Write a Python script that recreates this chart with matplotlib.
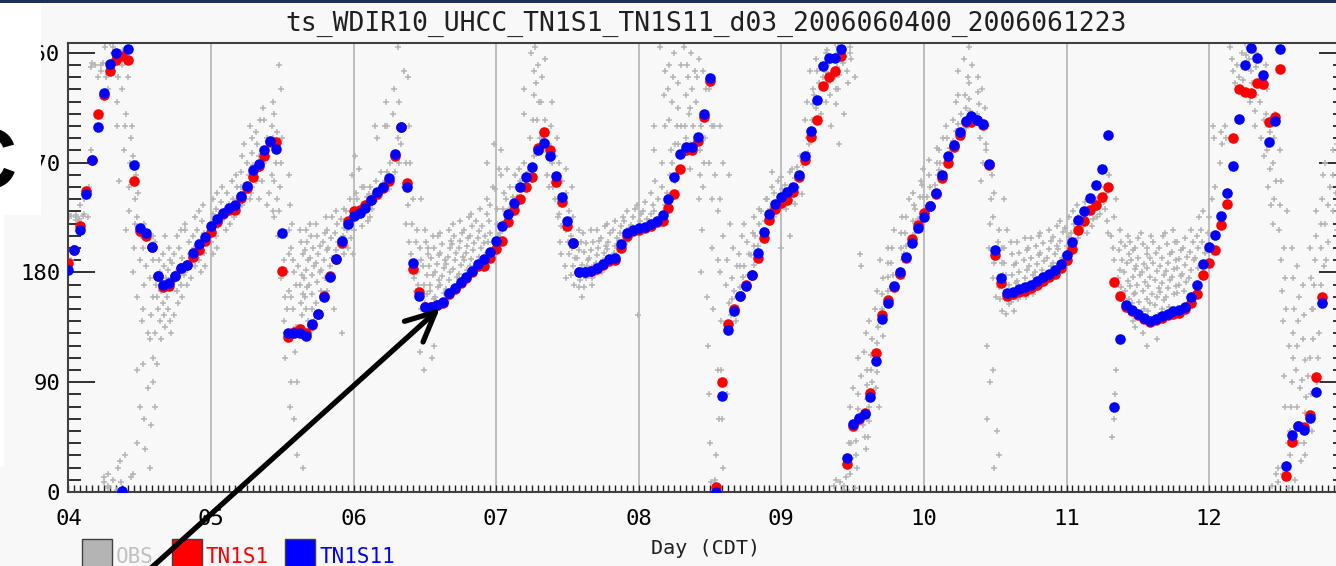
#!/usr/bin/env python3
import numpy as np
import matplotlib
matplotlib.use("Agg")
from matplotlib import pyplot as plt
from matplotlib.patches import Rectangle, FancyArrowPatch, ArrowStyle
from matplotlib.ticker import MultipleLocator
from matplotlib.transforms import IdentityTransform

nan = np.nan

title = "ts_WDIR10_UHCC_TN1S1_TN1S11_d03_2006060400_2006061223"
day_labels = ["04", "05", "06", "07", "08", "09", "10", "11", "12"]
ytick_vals = [0, 90, 180, 270, 360]
series_names = ["OBS", "TN1S1", "TN1S11"]

# hourly model wind direction (deg), 2006-06-04 00 .. 2006-06-12 23
tn1s1 = [
    188, 198, 218, 247, 272, 310, 325, 345, 354, 357, 354, 255, 214, 210, 201, 177, 168, 169, 177, 184, 186, 193, 198, 206,
    213, 221, 228, 231, 231, 241, 249, 258, 267, 275, 287, 287, 181, 127, 131, 134, 130, 137, 146, 161, 177, 191, 204, 222,
    230, 231, 235, 239, 244, 249, 255, 275, 299, 253, 183, 164, 152, 152, 153, 155, 162, 166, 171, 175, 180, 185, 185, 192,
    199, 206, 221, 231, 240, 250, 258, 282, 295, 280, 254, 238, 218, 204, 180, 180, 181, 183, 186, 189, 190, 200, 210, 214,
    215, 216, 218, 221, 222, 233, 244, 265, 280, 280, 288, 307, 337, 4, 90, 138, 150, 161, 170, 178, 192, 208, 223, 232,
    237, 239, 246, 258, 272, 291, 305, 333, 340, 345, 357, 23, 54, 60, 65, 81, 114, 145, 157, 168, 179, 192, 207, 219,
    229, 234, 244, 257, 270, 283, 293, 303, 303, 305, 301, 268, 194, 171, 161, 162, 164, 165, 167, 170, 173, 176, 179, 184,
    190, 199, 215, 222, 231, 235, 242, 250, 172, 161, 152, 148, 145, 142, 139, 141, 143, 145, 146, 147, 150, 155, 162, 178,
    188, 198, 219, 236, 290, 330, 328, 327, 335, 334, 303, 307, 347, 13, 41, 54, 53, 63, 94, 160, nan, nan, nan, nan,
]

tn1s11 = [
    182, 198, 215, 244, 272, 299, 327, 351, 360, 1, 363, 268, 216, 212, 201, 177, 170, 171, 177, 184, 186, 196, 203, 209,
    218, 224, 229, 233, 235, 243, 251, 264, 269, 280, 288, 281, 212, 130, 130, 130, 128, 138, 146, 160, 176, 191, 206, 220,
    226, 229, 233, 239, 246, 250, 257, 277, 299, 250, 188, 161, 152, 152, 153, 156, 163, 167, 172, 176, 181, 187, 191, 197,
    206, 218, 228, 237, 250, 258, 266, 280, 286, 275, 259, 242, 222, 204, 180, 180, 181, 184, 187, 191, 192, 203, 212, 215,
    216, 217, 220, 222, 227, 240, 258, 277, 283, 283, 291, 310, 339, 0, 79, 133, 148, 161, 169, 178, 196, 213, 228, 236,
    242, 246, 250, 260, 275, 296, 321, 349, 356, 356, 363, 28, 56, 61, 64, 78, 107, 142, 155, 169, 180, 193, 204, 216,
    225, 234, 245, 260, 275, 284, 295, 304, 308, 305, 302, 269, 198, 175, 163, 164, 166, 168, 170, 173, 176, 179, 182, 187,
    194, 205, 223, 230, 241, 252, 265, 293, 70, 125, 153, 149, 146, 143, 140, 142, 144, 146, 148, 149, 152, 160, 170, 187,
    201, 211, 226, 245, 267, 306, 350, 364, 356, 342, 287, 304, 363, 21, 47, 54, 51, 61, 82, 155, nan, nan, nan, nan,
]

# observations, one list per hour (all stations within that hour)
obs_04 = [
    [226, 224, 228, 190, 225], [225, 227, 223, 200], [226, 224, 235, 222], [225, 250, 240, 228],
    [350, 348, 352, 280, 270], [350, 345, 310, 340], [352, 365, 340, 12, 8], [368, 360, 345, 330, 5, 15, 3],
    [365, 355, 340, 320, 300, 20, 10, 2], [362, 350, 330, 300, 280, 255, 25, 8, 0],
    [340, 310, 290, 270, 250, 230, 215, 12, 30], [300, 275, 260, 240, 220, 200, 180, 15],
    [270, 245, 225, 210, 190, 160, 140, 100, 70, 40], [220, 200, 185, 170, 150, 130, 105, 85, 60, 35],
    [210, 190, 175, 160, 145, 125, 110, 90, 55, 20], [205, 190, 180, 170, 160, 150, 140, 130, 105, 70],
    [210, 195, 185, 175, 165, 155, 145, 135, 125], [200, 190, 182, 175, 168, 160, 150, 140, 130],
    [210, 195, 188, 180, 172, 165, 155, 145], [215, 200, 192, 185, 178, 170, 160],
    [220, 205, 195, 188, 180, 170, 215], [225, 210, 200, 192, 185, 175],
    [230, 215, 205, 198, 190, 180], [235, 222, 212, 205, 196, 185],
]
obs_05 = [
    [240, 228, 220, 212, 205, 195], [245, 232, 225, 218, 210, 200], [250, 238, 230, 222, 215],
    [255, 245, 236, 228, 220], [260, 250, 240, 232, 225], [275, 262, 250, 243, 235],
    [285, 270, 260, 252, 245, 240], [300, 290, 278, 268, 258, 250, 245], [305, 295, 285, 275, 265, 255, 240],
    [315, 305, 290, 280, 270, 255, 235], [320, 300, 290, 285, 275, 260, 245, 230],
    [350, 310, 295, 280, 270, 255, 240, 225, 210], [330, 290, 270, 250, 230, 210, 190, 175, 160, 140],
    [260, 235, 215, 195, 180, 165, 150, 130, 110, 90, 70], [220, 200, 190, 180, 170, 160, 150, 135, 115, 90, 60, 30],
    [215, 205, 195, 185, 178, 170, 162, 155, 145, 135, 20], [215, 205, 198, 190, 182, 175, 168, 160, 150, 140],
    [220, 210, 200, 192, 185, 178, 170, 162, 150, 140], [220, 210, 202, 195, 188, 180, 172, 165, 155],
    [225, 212, 205, 198, 190, 182, 175, 165], [225, 215, 208, 200, 192, 185, 175],
    [230, 220, 212, 205, 198, 190, 150], [232, 224, 216, 210, 202, 195, 130], [240, 230, 222, 215, 208, 200],
]
obs_06 = [
    [275, 260, 245, 232, 225, 215, 195], [265, 250, 240, 232, 226, 218], [250, 242, 236, 230, 222],
    [250, 244, 238, 232, 225], [300, 290, 255, 248, 240], [320, 300, 262, 255, 245], [300, 270, 262, 255, 248],
    [330, 310, 290, 275, 262], [365, 345, 320, 300, 285, 270, 250], [340, 300, 270, 250, 235, 220, 205],
    [270, 240, 220, 205, 195, 185, 175, 165], [240, 215, 200, 190, 180, 170, 160, 150, 115],
    [215, 205, 195, 185, 178, 170, 162, 155, 145, 100], [210, 200, 192, 185, 178, 170, 165, 158, 150, 110],
    [210, 200, 194, 187, 180, 174, 168, 160, 152, 120], [212, 203, 196, 190, 184, 177, 170, 163, 155],
    [215, 206, 200, 193, 187, 180, 174, 166, 158], [220, 210, 203, 196, 190, 183, 176, 168],
    [222, 212, 206, 200, 193, 186, 179, 170], [225, 215, 208, 202, 196, 190, 182],
    [228, 218, 210, 204, 198, 191, 185], [232, 222, 214, 208, 200, 193],
    [240, 228, 218, 210, 204, 196], [270, 250, 235, 222, 212, 205],
]
obs_07 = [
    [285, 265, 248, 232, 220, 210], [280, 260, 245, 232, 222, 212], [265, 250, 240, 232, 225],
    [260, 250, 242, 236], [265, 255, 248, 242], [330, 310, 270, 262, 255],
    [360, 345, 325, 305, 290, 275], [365, 350, 335, 320, 305, 290], [355, 340, 320, 305, 290, 280],
    [320, 300, 285, 270, 260, 250], [290, 275, 260, 250, 240, 225], [270, 255, 240, 228, 218, 205, 195],
    [265, 245, 230, 215, 205, 195, 185, 175], [250, 225, 210, 200, 192, 185, 178, 170],
    [215, 205, 198, 192, 186, 180, 174, 168, 160], [212, 204, 197, 190, 185, 180, 175, 168],
    [215, 205, 198, 192, 186, 181, 175, 170], [215, 206, 200, 194, 188, 183, 178],
    [218, 208, 202, 196, 190, 185, 180], [220, 212, 205, 199, 193, 188],
    [222, 215, 208, 202, 196, 190], [225, 218, 212, 206, 200], [230, 222, 216, 210, 205], [232, 225, 219, 214],
]
obs_08 = [
    [235, 228, 222, 216, 145], [238, 230, 224, 218], [245, 235, 228, 222], [300, 280, 255, 240, 230, 224],
    [365, 345, 325, 300, 270, 250, 235], [370, 350, 330, 305, 280, 260, 245], [360, 340, 320, 300, 285, 270, 255],
    [370, 350, 335, 315, 300, 285, 275], [365, 350, 340, 325, 310, 300, 290], [360, 345, 330, 315, 300, 285, 265],
    [355, 340, 320, 300, 280, 260, 240], [345, 330, 310, 290, 270, 250, 215, 180],
    [330, 300, 270, 240, 200, 160, 120, 80, 40, 8], [300, 260, 230, 190, 150, 100, 60, 30, 10, 3],
    [300, 270, 240, 210, 180, 140, 100, 60, 20], [260, 220, 190, 170, 155, 145, 130, 80],
    [200, 185, 175, 165, 158, 150, 140], [210, 195, 185, 176, 168, 160], [220, 205, 195, 185, 178, 170],
    [225, 212, 202, 194, 186, 178], [232, 220, 210, 202, 195], [240, 230, 222, 215, 208],
    [262, 250, 240, 232, 225], [255, 245, 238, 232, 225],
]
obs_09 = [
    [258, 248, 242, 236, 230, 200], [262, 252, 246, 240, 232, 210], [265, 257, 250, 244, 236],
    [275, 266, 258, 250, 244], [320, 305, 290, 278, 268], [345, 330, 318, 305, 295, 285],
    [370, 355, 345, 335, 325, 315, 305], [370, 360, 350, 340, 330, 320, 310], [370, 362, 352, 344, 335, 325, 300],
    [368, 358, 348, 340, 330, 318, 5, 10], [365, 352, 342, 330, 310, 285, 2, 8],
    [370, 360, 345, 335, 40, 25, 12, 5, 0], [365, 355, 340, 85, 70, 55, 40, 28, 15, 3],
    [195, 185, 110, 95, 80, 68, 55, 42, 30, 20], [130, 115, 100, 88, 76, 65, 55, 45, 35],
    [140, 125, 112, 100, 90, 80, 70, 58, 45], [165, 150, 135, 122, 110, 98, 85, 70],
    [190, 175, 162, 150, 140, 128], [200, 188, 176, 165, 155], [215, 200, 188, 178, 170],
    [225, 212, 200, 190, 182], [240, 225, 212, 202, 195], [245, 235, 222, 212, 205], [255, 242, 232, 224, 218],
]
obs_10 = [
    [265, 252, 242, 234, 228], [272, 260, 250, 242, 236], [282, 270, 260, 252, 246], [290, 280, 270, 264, 258],
    [300, 290, 282, 276, 270], [320, 305, 296, 288, 282], [345, 325, 310, 302, 296, 290],
    [370, 355, 340, 325, 315, 305, 298], [365, 350, 335, 322, 312, 305], [340, 328, 318, 310, 302, 290],
    [330, 315, 300, 285, 270, 255], [300, 280, 260, 240, 220, 200, 120, 90, 60],
    [270, 245, 225, 205, 188, 175, 160, 100, 50, 20], [240, 215, 200, 188, 178, 168, 158, 148, 30],
    [215, 200, 188, 178, 170, 162, 154, 146], [205, 195, 186, 178, 171, 164, 156, 148],
    [205, 196, 188, 180, 173, 166, 158], [208, 198, 190, 182, 175, 168, 160], [208, 200, 192, 185, 178, 170, 162],
    [210, 202, 194, 187, 180, 172], [212, 204, 196, 189, 182, 175], [215, 206, 199, 192, 185, 178],
    [218, 209, 202, 195, 188, 181], [222, 213, 206, 199, 192, 185],
]
obs_11 = [
    [225, 216, 209, 202, 195, 188], [230, 220, 212, 205, 198], [235, 225, 216, 208], [238, 228, 220, 212],
    [240, 232, 224, 218], [250, 240, 232, 225], [265, 250, 238, 228], [260, 245, 232, 222, 212],
    [240, 225, 210, 200, 190, 100, 80, 60, 45], [215, 205, 198, 190, 182, 175, 168, 160],
    [210, 202, 195, 188, 180, 173, 165, 158, 150], [205, 198, 190, 183, 176, 169, 162, 155, 148, 140],
    [208, 200, 192, 185, 178, 170, 163, 156, 148, 135], [212, 203, 195, 187, 180, 172, 165, 158, 150, 130],
    [210, 200, 192, 184, 176, 169, 162, 155, 148, 120], [205, 196, 188, 181, 174, 167, 160, 153, 145, 125],
    [210, 200, 192, 185, 178, 171, 164, 157, 150], [212, 203, 195, 188, 181, 174, 167, 160, 152],
    [215, 205, 197, 190, 183, 176, 169, 162], [205, 198, 191, 184, 177, 170, 163],
    [208, 200, 193, 186, 179, 172, 165], [215, 205, 197, 190, 182, 175], [225, 210, 200, 192, 184],
    [230, 215, 205, 196],
]
obs_12 = [
    [240, 225, 212], [300, 290, 250], [295, 285, 270], [300, 290], [365, 355, 345, 335],
    [370, 360, 350, 340, 330], [368, 358, 348, 338, 328], [365, 355, 345, 335, 320],
    [360, 348, 336, 325, 312, 300], [350, 335, 320, 305, 290, 275], [330, 310, 295, 280, 265, 250, 235],
    [310, 290, 270, 255, 240, 220, 15, 5], [280, 255, 235, 215, 190, 165, 140, 20, 8],
    [230, 200, 175, 150, 120, 95, 70, 40, 15, 3], [200, 175, 150, 130, 110, 90, 70, 50, 30, 10],
    [185, 160, 140, 120, 100, 85, 70, 55, 40, 25], [170, 145, 125, 108, 92, 78, 65, 52, 40, 30],
    [200, 175, 150, 125, 110, 95, 80, 65, 50], [230, 210, 190, 170, 150, 130, 110, 90],
    [260, 240, 220, 200, 185, 170, 155], [270, 250, 235, 220, 205, 190], [280, 260, 245, 230, 215],
    [285, 268, 250, 235], [290, 272, 255, 240],
]

W, H = 1336, 566
BG = "#f8f8f8"


# pixel position in the picture -> figure fraction
def fx(x):
    return x / W


def fy(y):
    return 1 - y / H


def main():
    plt.rcParams["font.family"] = ["DejaVu Sans Mono"]
    fig = plt.figure(figsize=(W / 100, H / 100), dpi=100, facecolor=BG)
    ax = fig.add_axes([fx(68.4), fy(492), (1345.8 - 68.4) / W, (492 - 43) / H])
    ax.set_facecolor(BG)

    obs = obs_04 + obs_05 + obs_06 + obs_07 + obs_08 + obs_09 + obs_10 + obs_11 + obs_12
    hours = np.arange(len(tn1s1))
    t = 4 + hours / 24

    # place each station's report somewhere inside its hour (fixed, not random)
    xs, ys = [], []
    for h, vals in enumerate(obs):
        for j, v in enumerate(vals):
            off = ((v * 0.1371 + j * 0.618034) % 1) - 0.5
            xs.append(4 + (h + off) / 24)
            ys.append(v)

    for d in range(5, 13):
        ax.axvline(d, color="#b8b8b8", lw=1.3, zorder=1)

    ax.plot(xs, ys, ls="none", marker="+", ms=4.2, mew=1.1, color="#b4b4b4", zorder=2)
    ax.plot(t, tn1s1, ls="none", marker="o", ms=7.6, mec="none", color="#ff0000", zorder=3)
    ax.plot(t, tn1s11, ls="none", marker="o", ms=7.6, mec="none", color="#0000ff", zorder=4)

    ax.set_xlim(4, 4 + 215 / 24)
    ax.set_ylim(0, 368)

    ax.set_yticks(ytick_vals)
    ax.set_yticklabels([str(v) for v in ytick_vals])
    ax.yaxis.set_minor_locator(MultipleLocator(10))
    ax.tick_params(axis="y", which="major", direction="in", length=19.5, width=1.3,
                   left=True, right=True, labelsize=16, pad=6, color="#202020")
    ax.tick_params(axis="y", which="minor", direction="in", length=9.5, width=1.3,
                   left=True, right=True, color="#202020")

    ax.set_xticks(range(4, 13))
    ax.set_xticklabels(day_labels)
    ax.xaxis.set_minor_locator(MultipleLocator(1 / 24))
    ax.tick_params(axis="x", which="both", direction="in", length=5, width=1,
                   bottom=True, top=False, labelsize=16, pad=12, color="#202020")

    for s in ax.spines.values():
        s.set_color("#404040")
        s.set_linewidth(1.5)

    fig.text(fx(706), fy(31), title, ha="center", va="baseline", fontsize=19, color="#202020")
    fig.text(fx(706), fy(554), "Day (CDT)", ha="center", va="baseline", fontsize=14.5, color="#202020")

    # legend boxes along the bottom edge
    colors = ["#b4b4b4", "#ff0000", "#0000ff"]
    text_colors = ["#c0c0c0", "#ff0000", "#0000ff"]
    box_x = [82, 172, 285]
    for name, c, tc, bx in zip(series_names, colors, text_colors, box_x):
        fig.add_artist(Rectangle((fx(bx), fy(572)), 30 / W, 33 / H, transform=fig.transFigure,
                                 facecolor=c, edgecolor="#404040", lw=1, zorder=5))
        fig.text(fx(bx + 34), fy(563), name, ha="left", va="baseline", fontsize=15, color=tc, zorder=5)

    # slide decorations: top rule, white panel with a large letter
    fig.add_artist(Rectangle((0, fy(2.5)), 1, 2.5 / H, transform=fig.transFigure,
                             facecolor="#1c2f5e", edgecolor="none", zorder=6))
    fig.add_artist(Rectangle((0, fy(215)), fx(41), (215 - 3) / H, transform=fig.transFigure,
                             facecolor="white", edgecolor="none", zorder=6))
    fig.add_artist(Rectangle((0, fy(467)), fx(4), (467 - 215) / H, transform=fig.transFigure,
                             facecolor="white", edgecolor="none", zorder=6))
    fig.text(fx(-46), fy(188), "C", ha="left", va="baseline", fontsize=62, fontweight="bold",
             family=["Liberation Sans"], color="black", zorder=7)

    arrow = FancyArrowPatch((150, H - 569), (440, H - 308), transform=IdentityTransform(),
                            arrowstyle=ArrowStyle("->", head_length=21, head_width=10),
                            mutation_scale=1, shrinkA=0, shrinkB=0, lw=3.8, color="black", zorder=8)
    fig.add_artist(arrow)

    fig.savefig("out.png", dpi=100, facecolor=BG)


if __name__ == "__main__":
    main()
